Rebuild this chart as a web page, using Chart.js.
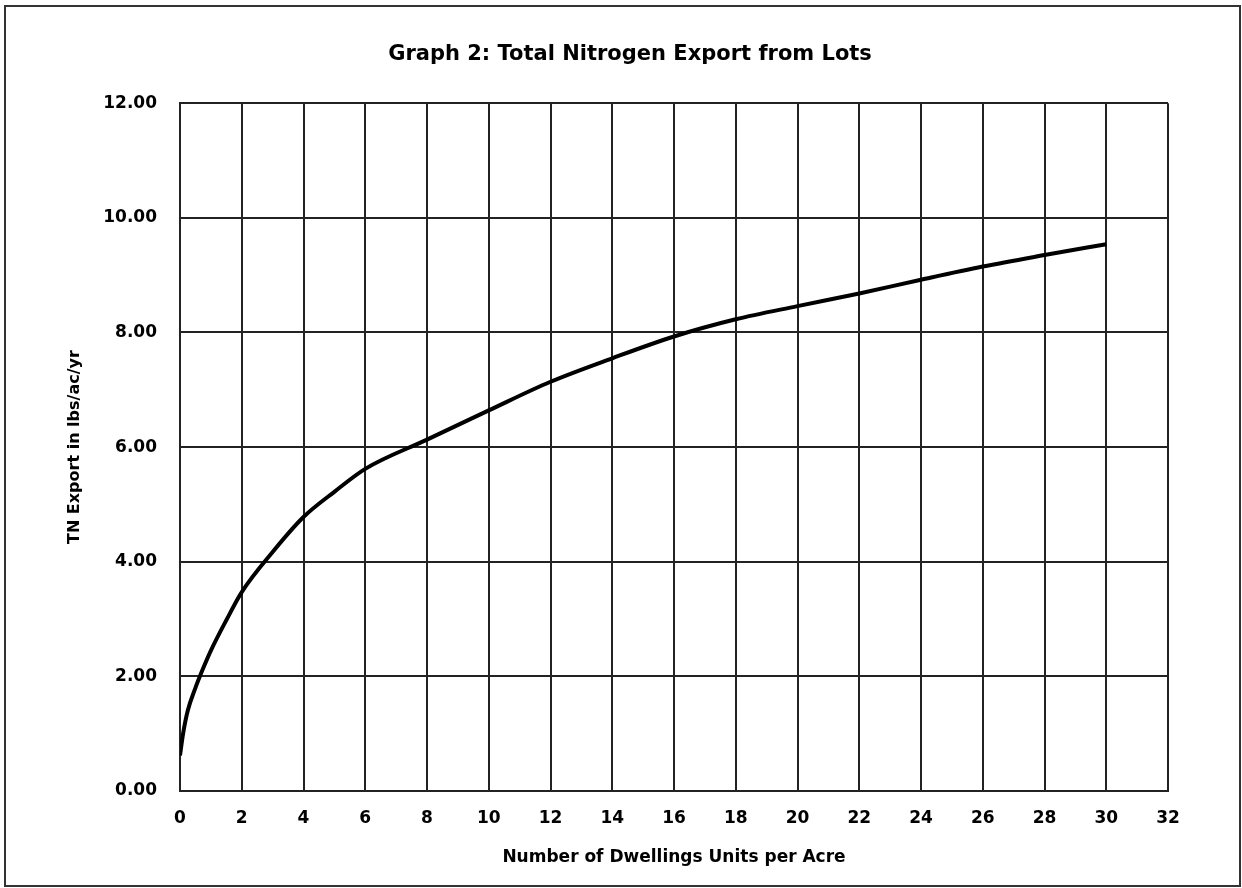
<!DOCTYPE html>
<html>
<head>
<meta charset="utf-8">
<script src="https://cdn.jsdelivr.net/npm/chart.js@4"></script>
<style>
  html, body { margin: 0; padding: 0; background: #fff; }
  #wrap { width: 1242px; height: 888px; position: relative; }
</style>
</head>
<body>
<div id="wrap"><canvas id="nitrogenChart"></canvas></div>
<script>
// Dwelling units per acre vs TN export (lbs/ac/yr)
const dwellings = [0, 0.1, 0.25, 0.5, 0.75, 1, 1.5, 2, 3, 4, 5, 6, 8, 10, 12, 14, 16, 18, 20, 22, 24, 26, 28, 30];
const tnExport  = [0.62, 1.0, 1.4, 1.8, 2.14, 2.45, 2.98, 3.47, 4.17, 4.78, 5.22, 5.62, 6.13, 6.64, 7.14, 7.55, 7.93, 8.23, 8.46, 8.68, 8.92, 9.15, 9.35, 9.54];

const xTicks = { min: 0, max: 32, step: 2 };
const yTicks = { min: 0, max: 12, step: 2 };

// outer frame round the whole picture
const framePlugin = {
    id: 'frame',
    beforeDraw(chart) {
        const ctx = chart.ctx;
        ctx.save();
        ctx.fillStyle = '#fff';
        ctx.fillRect(0, 0, chart.width, chart.height);
        ctx.strokeStyle = '#333';
        ctx.lineWidth = 2;
        ctx.strokeRect(5, 6, 1235, 880);
        ctx.restore();
    }
};

Chart.defaults.color = '#000';
Chart.defaults.font.family = '"DejaVu Sans", Verdana, sans-serif';

document.addEventListener('DOMContentLoaded', () => {
    const ctx = document.getElementById('nitrogenChart').getContext('2d');
    new Chart(ctx, {
        type: 'scatter',
        data: {
            datasets: [{
                label: 'TN Export',
                data: dwellings.map((d, i) => ({ x: d, y: tnExport[i] })),
                showLine: true,
                borderColor: '#000',
                borderWidth: 4,
                pointRadius: 0,
                cubicInterpolationMode: 'monotone'
            }]
        },
        options: {
            responsive: true,
            maintainAspectRatio: false,
            animation: false,
            layout: { padding: { left: 18, right: 0, top: 0, bottom: 0 } },
            plugins: {
                legend: { display: false },
                tooltip: { enabled: false },
                title: {
                    display: true,
                    text: 'Graph 2: Total Nitrogen Export from Lots',
                    font: { size: 21, weight: 'bold' },
                    color: '#000',
                    padding: { top: 42, bottom: 36 }
                }
            },
            scales: {
                x: {
                    type: 'linear',
                    min: xTicks.min,
                    max: xTicks.max,
                    ticks: {
                        stepSize: xTicks.step,
                        padding: 17,
                        font: { size: 17, weight: 'bold' }
                    },
                    grid: { color: '#222', lineWidth: 2, drawTicks: false },
                    border: { color: '#222', width: 2 },
                    title: {
                        display: true,
                        text: 'Number of Dwellings Units per Acre',
                        font: { size: 17, weight: 'bold' },
                        padding: { top: 0, bottom: 20 }
                    },
                    afterFit(scale) { scale.height = 97; }
                },
                y: {
                    type: 'linear',
                    min: yTicks.min,
                    max: yTicks.max,
                    ticks: {
                        stepSize: yTicks.step,
                        padding: 23,
                        font: { size: 17, weight: 'bold' },
                        callback: v => v.toFixed(2)
                    },
                    grid: { color: '#222', lineWidth: 2, drawTicks: false },
                    border: { color: '#222', width: 2 },
                    title: {
                        display: true,
                        text: 'TN Export in lbs/ac/yr',
                        font: { size: 16, weight: 'bold' },
                        padding: { top: 47, bottom: 0 }
                    },
                    afterFit(scale) { scale.width = 162; }
                },
                yRight: {
                    type: 'linear',
                    position: 'right',
                    display: true,
                    min: yTicks.min,
                    max: yTicks.max,
                    ticks: { display: false },
                    grid: { display: false, drawTicks: false },
                    border: { display: false },
                    afterFit(scale) { scale.width = 74; }
                }
            }
        },
        plugins: [framePlugin]
    });
});
</script>
</body>
</html>
